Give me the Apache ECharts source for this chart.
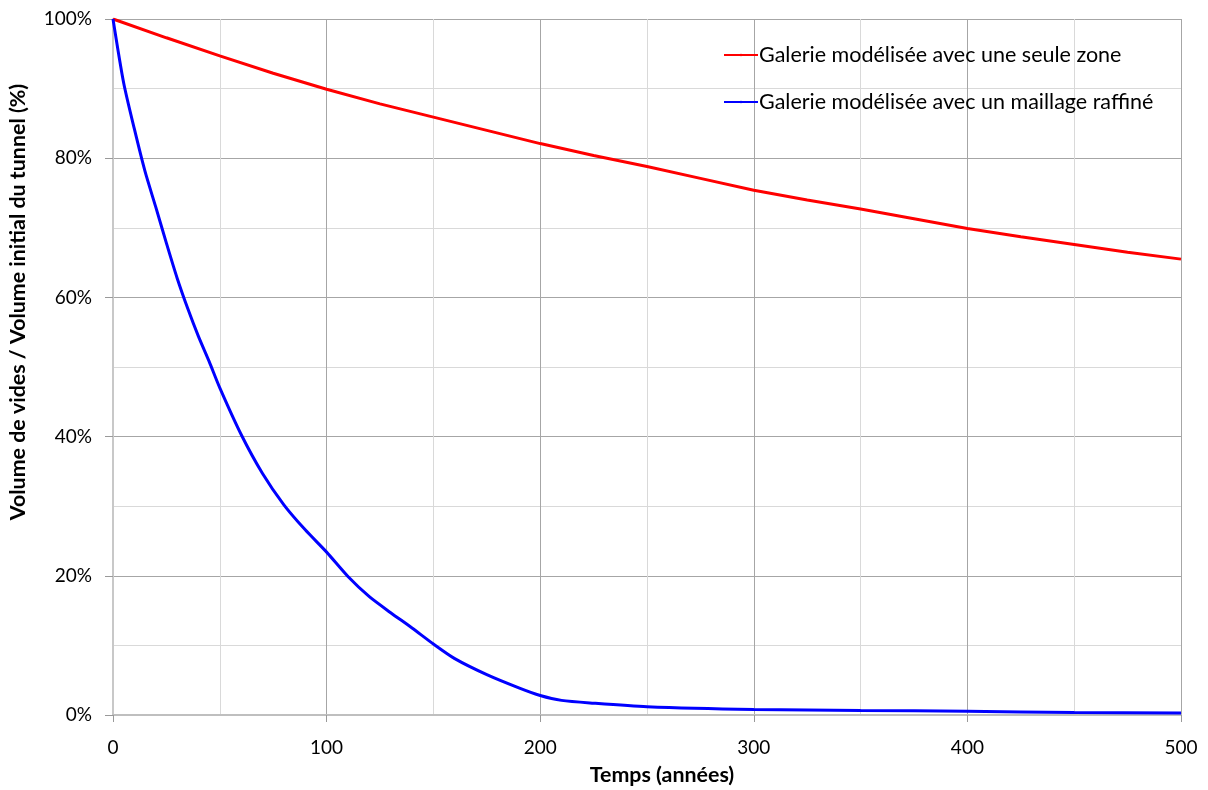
<!DOCTYPE html>
<html>
<head>
<meta charset="utf-8">
<script src="https://cdn.jsdelivr.net/npm/echarts@6/dist/echarts.min.js"></script>
<style>
  html, body { margin: 0; padding: 0; background: #fff; }
  #chart { width: 1208px; height: 790px; }
</style>
</head>
<body>
<div id="chart"></div>
<script>
// courbe rouge : une seule zone
const yearsOne = [0, 25, 50, 75, 100, 125, 150, 175, 200, 225, 250, 275, 300, 325, 350, 375, 400, 425, 450, 475, 500];
const volOne = [100, 97.3, 94.7, 92.2, 89.9, 87.8, 85.9, 84.0, 82.1, 80.4, 78.8, 77.1, 75.4, 74.0, 72.7, 71.3, 69.9, 68.7, 67.6, 66.5, 65.5];

// courbe bleue : maillage raffiné
const yearsFine = [0, 5, 10, 15, 20, 25, 30, 35, 40, 45, 50, 60, 70, 80, 90, 100, 110, 120, 130, 140, 150, 160, 175, 190, 200, 210, 225, 250, 300, 350, 400, 450, 500];
const volFine = [100, 90.8, 84.2, 78.1, 73, 67.8, 62.8, 58.4, 54.4, 50.8, 47, 40.3, 34.7, 30.2, 26.6, 23.4, 19.9, 17, 14.7, 12.5, 10.2, 8.1, 5.8, 3.9, 2.8, 2.1, 1.7, 1.2, 0.8, 0.65, 0.55, 0.35, 0.3];

const seriesNames = ['Galerie modélisée avec une seule zone', 'Galerie modélisée avec un maillage raffiné'];

const font = 'Lato, "Open Sans", sans-serif';
const pairs = (xs, ys) => xs.map((x, i) => [x, ys[i]]);

const chart = echarts.init(document.getElementById('chart'));
chart.setOption({
    animation: false,
    backgroundColor: '#fff',
    grid: { left: 113, right: 27, top: 19, bottom: 75, outerBoundsMode: 'none', containLabel: false },
    legend: {
        orient: 'vertical',
        left: 718,
        top: 39,
        itemGap: 25,
        itemWidth: 34,
        itemHeight: 3,
        data: seriesNames,
        textStyle: { fontFamily: font, fontSize: 21.5, color: '#000', padding: [0, 0, 0, -4] }
    },
    xAxis: {
        type: 'value',
        min: 0,
        max: 500,
        interval: 100,
        name: 'Temps (années)',
        nameLocation: 'middle',
        nameGap: 50,
        nameTextStyle: { fontFamily: font, fontSize: 21.4, fontWeight: 'bold', color: '#000', padding: [0, 0, 0, 30] },
        axisLine: { show: true, lineStyle: { color: '#bfbfbf', width: 2 } },
        axisTick: { show: true, length: 7, lineStyle: { color: '#999' } },
        axisLabel: { fontFamily: font, fontSize: 19, color: '#000', margin: 23 },
        splitLine: { show: true, lineStyle: { color: '#a6a6a6', width: 1 } },
        minorTick: { show: false, splitNumber: 2 },
        minorSplitLine: { show: true, lineStyle: { color: '#d9d9d9', width: 1 } }
    },
    yAxis: {
        type: 'value',
        min: 0,
        max: 100,
        interval: 20,
        name: 'Volume de vides / Volume initial du tunnel (%)',
        nameLocation: 'middle',
        nameGap: 84,
        nameTextStyle: { fontFamily: font, fontSize: 21.4, fontWeight: 'bold', color: '#000', padding: [0, 0, 0, 130] },
        axisLine: { show: true, lineStyle: { color: '#c8c8c8', width: 2 } },
        axisTick: { show: true, length: 8, lineStyle: { color: '#999' } },
        axisLabel: { fontFamily: font, fontSize: 19, color: '#000', margin: 21, formatter: '{value}%' },
        splitLine: { show: true, lineStyle: { color: '#a6a6a6', width: 1 } },
        minorTick: { show: false, splitNumber: 2 },
        minorSplitLine: { show: true, lineStyle: { color: '#d9d9d9', width: 1 } }
    },
    series: [
        {
            name: seriesNames[0],
            type: 'line',
            symbol: 'none',
            data: pairs(yearsOne, volOne),
            lineStyle: { color: '#ff0000', width: 3 },
            itemStyle: { color: '#ff0000' }
        },
        {
            name: seriesNames[1],
            type: 'line',
            symbol: 'none',
            smooth: 0.25,
            data: pairs(yearsFine, volFine),
            lineStyle: { color: '#0000ff', width: 3 },
            itemStyle: { color: '#0000ff' }
        }
    ]
});
</script>
</body>
</html>
